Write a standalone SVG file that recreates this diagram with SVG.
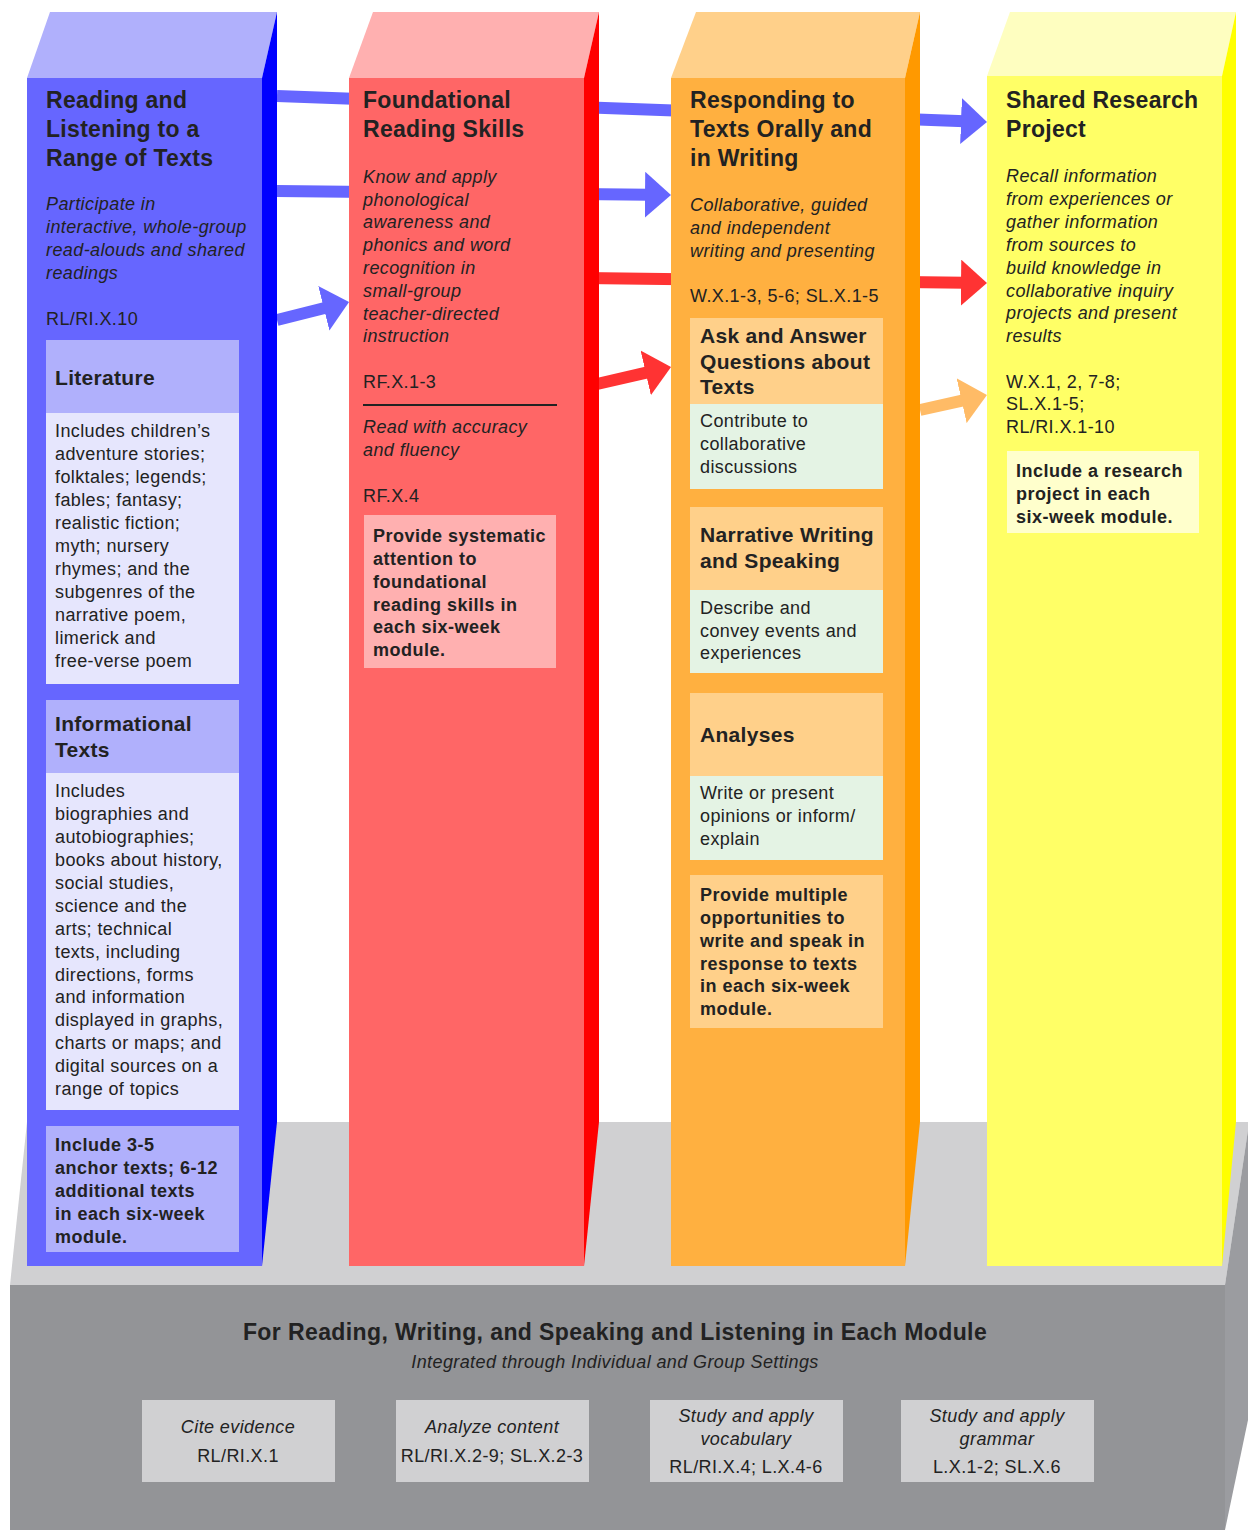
<svg xmlns="http://www.w3.org/2000/svg" width="1248" height="1530" viewBox="0 0 1248 1530">
<style>
text{font-family:"Liberation Sans",Arial,sans-serif;fill:#222;}
.t{font-size:23px;font-weight:bold;letter-spacing:0.3px;}
.b{font-size:18px;letter-spacing:0.4px;}
.i{font-size:18px;font-style:italic;letter-spacing:0.4px;}
.h{font-size:21px;font-weight:bold;letter-spacing:0.3px;}
.k{font-size:18px;font-weight:bold;letter-spacing:0.5px;}
.bt{font-size:23px;font-weight:bold;letter-spacing:0.4px;}
.mid{text-anchor:middle;}
.ab{stroke:#6666ff;stroke-width:12;fill:none;}
.ar{stroke:#ff3333;stroke-width:12;fill:none;}
.ao{stroke:#ffbb66;stroke-width:12;fill:none;}
</style>
<defs>
<marker id="hb" markerUnits="userSpaceOnUse" viewBox="0 0 26 46" refX="4" refY="23" markerWidth="26" markerHeight="46" orient="auto"><path d="M0,0 L26,23 L0,46 Z" fill="#6666ff"/></marker>
<marker id="hr" markerUnits="userSpaceOnUse" viewBox="0 0 26 46" refX="4" refY="23" markerWidth="26" markerHeight="46" orient="auto"><path d="M0,0 L26,23 L0,46 Z" fill="#ff3333"/></marker>
<marker id="ho" markerUnits="userSpaceOnUse" viewBox="0 0 26 46" refX="4" refY="23" markerWidth="26" markerHeight="46" orient="auto"><path d="M0,0 L26,23 L0,46 Z" fill="#ffbb66"/></marker>
</defs>
<rect width="1248" height="1530" fill="#ffffff"/>

<!-- base -->
<g id="base">
<polygon points="27,1122 1248,1122 1248,1130 1225,1285 10,1285" fill="#d0d0d2"/>
<polygon points="1225,1285 1248,1130 1248,1420 1225,1530" fill="#9b9ca0"/>
<rect x="10" y="1285" width="1215" height="245" fill="#939497"/>
<text class="bt mid" x="615" y="1340">For Reading, Writing, and Speaking and Listening in Each Module</text>
<text class="i mid" x="615" y="1368">Integrated through Individual and Group Settings</text>
</g>
<g id="base-box-1">
<rect x="142" y="1400" width="193" height="82" fill="#d0d0d2"/>
<text class="i mid" x="238" y="1433">Cite evidence</text>
<text class="b mid" x="238" y="1462">RL/RI.X.1</text>
</g>
<g id="base-box-2">
<rect x="396" y="1400" width="193" height="82" fill="#d0d0d2"/>
<text class="i mid" x="492" y="1433">Analyze content</text>
<text class="b mid" x="492" y="1462">RL/RI.X.2-9; SL.X.2-3</text>
</g>
<g id="base-box-3">
<rect x="650" y="1400" width="193" height="82" fill="#d0d0d2"/>
<text class="i mid" x="746" y="1422">Study and apply</text>
<text class="i mid" x="746" y="1445">vocabulary</text>
<text class="b mid" x="746" y="1473">RL/RI.X.4; L.X.4-6</text>
</g>
<g id="base-box-4">
<rect x="901" y="1400" width="193" height="82" fill="#d0d0d2"/>
<text class="i mid" x="997" y="1422">Study and apply</text>
<text class="i mid" x="997" y="1445">grammar</text>
<text class="b mid" x="997" y="1473">L.X.1-2; SL.X.6</text>
</g>

<!-- connectors -->
<g id="connectors">
<path class="ab" d="M277,96 L965,121.2" marker-end="url(#hb)"/>
<path class="ab" d="M277,191 L649,194.8" marker-end="url(#hb)"/>
<path class="ab" d="M277,320 L327.7,307.3" marker-end="url(#hb)"/>
<path class="ar" d="M584,278 L965,282.7" marker-end="url(#hr)"/>
<path class="ar" d="M584,387 L649.6,371.9" marker-end="url(#hr)"/>
<path class="ao" d="M920,410 L965.5,399.8" marker-end="url(#ho)"/>
</g>

<!-- blue column -->
<g id="col-reading">
<polygon points="27,78 50,12 277,12 262,78" fill="#b0b0fc"/>
<polygon points="262,78 277,12 277,1122 262,1266" fill="#0000ff"/>
<rect x="27" y="78" width="235" height="1188" fill="#6666ff"/>
<text class="t"><tspan x="46" y="108">Reading and</tspan><tspan x="46" y="137">Listening to a</tspan><tspan x="46" y="166">Range of Texts</tspan></text>
<text class="i"><tspan x="46" y="210">Participate in</tspan><tspan x="46" y="233">interactive, whole-group</tspan><tspan x="46" y="256">read-alouds and shared</tspan><tspan x="46" y="279">readings</tspan></text>
<text class="b" x="46" y="325">RL/RI.X.10</text>
</g>
<g id="box-literature">
<rect x="46" y="340" width="193" height="73" fill="#b0b0fc"/>
<rect x="46" y="413" width="193" height="271" fill="#e6e6fd"/>
<text class="h" x="55" y="385">Literature</text>
<text class="b"><tspan x="55" y="437">Includes children’s</tspan><tspan x="55" y="460">adventure stories;</tspan><tspan x="55" y="483">folktales; legends;</tspan><tspan x="55" y="506">fables; fantasy;</tspan><tspan x="55" y="529">realistic fiction;</tspan><tspan x="55" y="552">myth; nursery</tspan><tspan x="55" y="575">rhymes; and the</tspan><tspan x="55" y="598">subgenres of the</tspan><tspan x="55" y="621">narrative poem,</tspan><tspan x="55" y="644">limerick and</tspan><tspan x="55" y="667">free-verse poem</tspan></text>
</g>
<g id="box-informational">
<rect x="46" y="700" width="193" height="73" fill="#b0b0fc"/>
<rect x="46" y="773" width="193" height="337" fill="#e6e6fd"/>
<text class="h"><tspan x="55" y="731">Informational</tspan><tspan x="55" y="757">Texts</tspan></text>
<text class="b"><tspan x="55" y="797">Includes</tspan><tspan x="55" y="820">biographies and</tspan><tspan x="55" y="843">autobiographies;</tspan><tspan x="55" y="866">books about history,</tspan><tspan x="55" y="889">social studies,</tspan><tspan x="55" y="912">science and the</tspan><tspan x="55" y="935">arts; technical</tspan><tspan x="55" y="958">texts, including</tspan><tspan x="55" y="981">directions, forms</tspan><tspan x="55" y="1003">and information</tspan><tspan x="55" y="1026">displayed in graphs,</tspan><tspan x="55" y="1049">charts or maps; and</tspan><tspan x="55" y="1072">digital sources on a</tspan><tspan x="55" y="1095">range of topics</tspan></text>
</g>
<g id="box-anchor">
<rect x="46" y="1126" width="193" height="126" fill="#b0b0fc"/>
<text class="k"><tspan x="55" y="1151">Include 3-5</tspan><tspan x="55" y="1174">anchor texts; 6-12</tspan><tspan x="55" y="1197">additional texts</tspan><tspan x="55" y="1220">in each six-week</tspan><tspan x="55" y="1243">module.</tspan></text>
</g>

<!-- red column -->
<g id="col-foundational">
<polygon points="349,78 373,12 599,12 584,78" fill="#ffb0b0"/>
<polygon points="584,78 599,12 599,1122 584,1266" fill="#ff0000"/>
<rect x="349" y="78" width="235" height="1188" fill="#ff6666"/>
<text class="t"><tspan x="363" y="108">Foundational</tspan><tspan x="363" y="137">Reading Skills</tspan></text>
<text class="i"><tspan x="363" y="183">Know and apply</tspan><tspan x="363" y="206">phonological</tspan><tspan x="363" y="228">awareness and</tspan><tspan x="363" y="251">phonics and word</tspan><tspan x="363" y="274">recognition in</tspan><tspan x="363" y="297">small-group</tspan><tspan x="363" y="320">teacher-directed</tspan><tspan x="363" y="342">instruction</tspan></text>
<text class="b" x="363" y="388">RF.X.1-3</text>
<line x1="363" y1="405" x2="557" y2="405" stroke="#222" stroke-width="2"/>
<text class="i"><tspan x="363" y="433">Read with accuracy</tspan><tspan x="363" y="456">and fluency</tspan></text>
<text class="b" x="363" y="502">RF.X.4</text>
</g>
<g id="box-systematic">
<rect x="364" y="515" width="192" height="153" fill="#ffb0b0"/>
<text class="k"><tspan x="373" y="542">Provide systematic</tspan><tspan x="373" y="565">attention to</tspan><tspan x="373" y="588">foundational</tspan><tspan x="373" y="611">reading skills in</tspan><tspan x="373" y="633">each six-week</tspan><tspan x="373" y="656">module.</tspan></text>
</g>

<!-- orange column -->
<g id="col-responding">
<polygon points="671,78 696,12 920,12 905,78" fill="#ffd08a"/>
<polygon points="905,78 920,12 920,1122 905,1266" fill="#ff9900"/>
<rect x="671" y="78" width="234" height="1188" fill="#ffb040"/>
<text class="t"><tspan x="690" y="108">Responding to</tspan><tspan x="690" y="137">Texts Orally and</tspan><tspan x="690" y="166">in Writing</tspan></text>
<text class="i"><tspan x="690" y="211">Collaborative, guided</tspan><tspan x="690" y="234">and independent</tspan><tspan x="690" y="257">writing and presenting</tspan></text>
<text class="b" x="690" y="302">W.X.1-3, 5-6; SL.X.1-5</text>
</g>
<g id="box-ask">
<rect x="690" y="318" width="193" height="86" fill="#ffd08a"/>
<rect x="690" y="404" width="193" height="85" fill="#e4f3e4"/>
<text class="h"><tspan x="700" y="343">Ask and Answer</tspan><tspan x="700" y="369">Questions about</tspan><tspan x="700" y="394">Texts</tspan></text>
<text class="b"><tspan x="700" y="427">Contribute to</tspan><tspan x="700" y="450">collaborative</tspan><tspan x="700" y="473">discussions</tspan></text>
</g>
<g id="box-narrative">
<rect x="690" y="507" width="193" height="83" fill="#ffd08a"/>
<rect x="690" y="590" width="193" height="83" fill="#e4f3e4"/>
<text class="h"><tspan x="700" y="542">Narrative Writing</tspan><tspan x="700" y="568">and Speaking</tspan></text>
<text class="b"><tspan x="700" y="614">Describe and</tspan><tspan x="700" y="637">convey events and</tspan><tspan x="700" y="659">experiences</tspan></text>
</g>
<g id="box-analyses">
<rect x="690" y="693" width="193" height="83" fill="#ffd08a"/>
<rect x="690" y="776" width="193" height="84" fill="#e4f3e4"/>
<text class="h" x="700" y="742">Analyses</text>
<text class="b"><tspan x="700" y="799">Write or present</tspan><tspan x="700" y="822">opinions or inform/</tspan><tspan x="700" y="845">explain</tspan></text>
</g>
<g id="box-multiple">
<rect x="690" y="875" width="193" height="153" fill="#ffd08a"/>
<text class="k"><tspan x="700" y="901">Provide multiple</tspan><tspan x="700" y="924">opportunities to</tspan><tspan x="700" y="947">write and speak in</tspan><tspan x="700" y="970">response to texts</tspan><tspan x="700" y="992">in each six-week</tspan><tspan x="700" y="1015">module.</tspan></text>
</g>

<!-- yellow column -->
<g id="col-research">
<polygon points="987,76 1010,12 1236,12 1222,76" fill="#fefec0"/>
<polygon points="1222,76 1236,12 1236,1122 1222,1266" fill="#ffff00"/>
<rect x="987" y="76" width="235" height="1190" fill="#ffff66"/>
<text class="t"><tspan x="1006" y="108">Shared Research</tspan><tspan x="1006" y="137">Project</tspan></text>
<text class="i"><tspan x="1006" y="182">Recall information</tspan><tspan x="1006" y="205">from experiences or</tspan><tspan x="1006" y="228">gather information</tspan><tspan x="1006" y="251">from sources to</tspan><tspan x="1006" y="274">build knowledge in</tspan><tspan x="1006" y="297">collaborative inquiry</tspan><tspan x="1006" y="319">projects and present</tspan><tspan x="1006" y="342">results</tspan></text>
<text class="b"><tspan x="1006" y="388">W.X.1, 2, 7-8;</tspan><tspan x="1006" y="410">SL.X.1-5;</tspan><tspan x="1006" y="433">RL/RI.X.1-10</tspan></text>
</g>
<g id="box-include-research">
<rect x="1007" y="451" width="192" height="82" fill="#ffffcc"/>
<text class="k"><tspan x="1016" y="477">Include a research</tspan><tspan x="1016" y="500">project in each</tspan><tspan x="1016" y="523">six-week module.</tspan></text>
</g>
</svg>
